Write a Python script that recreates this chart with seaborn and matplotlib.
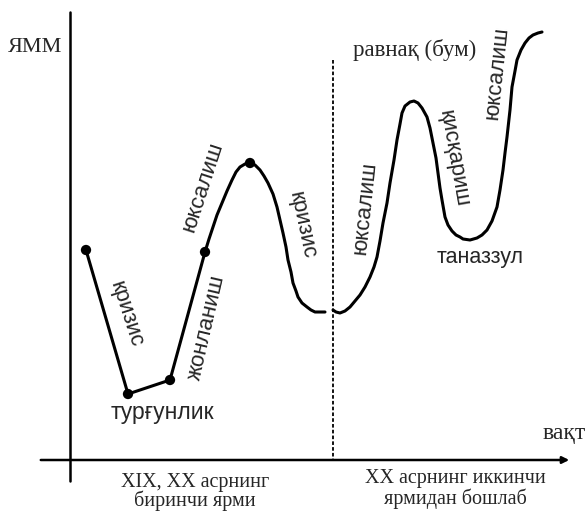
import matplotlib
matplotlib.use('Agg')
import matplotlib.pyplot as plt
import seaborn as sns
import pandas as pd

# curve (pixel-like units, y grows downward)
curve1_x = [86, 128, 170, 205, 209, 213, 217, 222, 227, 232, 236, 240, 245, 250, 255, 260, 264, 268, 273,
            277, 280, 283, 286, 288, 291, 293, 296, 298, 302, 307, 311, 315, 320, 325]
curve1_y = [250, 394, 380, 252, 239, 227, 215, 203, 191, 180, 172, 167, 164, 163, 165, 170, 176, 183, 194,
            207, 220, 233, 247, 260, 272, 283, 291, 297, 303, 307, 310, 312, 312, 312]
curve2_x = [333, 336, 340, 345, 350, 355, 360, 365, 370, 374, 377, 380, 383, 387, 390, 394, 397, 400, 402,
            405, 410, 414, 418, 422, 427, 430, 433, 436, 438, 440, 442, 445, 448, 452, 456, 460,
            463, 470, 477, 482, 487, 492, 497, 500, 503, 505, 507, 510, 512, 515, 517, 521, 525, 529, 533, 538, 542]
curve2_y = [310, 312, 313, 311, 307, 301, 295, 287, 277, 267, 257, 241, 223, 203, 183, 160, 140, 124, 113,
            106, 102, 101, 103, 108, 117, 128, 143, 158, 173, 188, 200, 217, 225, 231, 235, 237,
            239, 240, 238, 235, 230, 221, 207, 190, 170, 153, 137, 110, 87, 71, 60, 50, 43, 38, 35, 33, 32]
dots_x = [86, 128, 170, 205, 250]
dots_y = [250, 394, 380, 252, 163]

# phase labels along the curve: text, x, y, rotation
phase_labels = ['кризис', 'жонланиш', 'юксалиш', 'кризис', 'юксалиш', 'қисқариш', 'юксалиш']
phase_x = [126, 207, 203, 302, 365, 453, 497]
phase_y = [314, 327, 187, 225, 208, 158, 73]
phase_rot = [-72, 77, 72, -78, 84, -80, 84]

c1 = pd.DataFrame({'x': curve1_x, 'y': curve1_y})
c2 = pd.DataFrame({'x': curve2_x, 'y': curve2_y})
dots = pd.DataFrame({'x': dots_x, 'y': dots_y})

sns.set_theme(style='white')
serif = ['Liberation Serif', 'DejaVu Serif']
sans = ['Liberation Sans', 'DejaVu Sans']

fig = plt.figure(figsize=(5.88, 5.11), dpi=100)
ax = fig.add_axes([0, 0, 1, 1])

# axes of the diagram
ax.plot([70, 70], [12, 481], color='black', lw=1.8)
ax.annotate('', xy=(572, 460), xytext=(38, 460),
            arrowprops=dict(arrowstyle='-|>', color='black', lw=1.8, mutation_scale=10))
ax.plot([333, 333], [60, 460], color='black', lw=1.3, ls=(0, (2, 1.2)))

sns.lineplot(data=c1, x='x', y='y', sort=False, estimator=None, color='black', lw=2.2, ax=ax)
sns.lineplot(data=c2, x='x', y='y', sort=False, estimator=None, color='black', lw=2.2, ax=ax)
sns.scatterplot(data=dots, x='x', y='y', color='black', s=55, edgecolor='none', ax=ax, zorder=5)
ax.set_xlim(0, 588)
ax.set_ylim(511, 0)
ax.axis('off')

for t, x, y, r in zip(phase_labels, phase_x, phase_y, phase_rot):
    ax.text(x, y, t, rotation=r, ha='center', va='center', fontsize=16, family=sans,
            rotation_mode='anchor')

ax.text(162, 413, 'турғунлик', ha='center', va='center', fontsize=16.5, family=sans)
ax.text(480, 257, 'таназзул', ha='center', va='center', fontsize=15.5, family=sans)

ax.text(35, 47, 'ЯММ', ha='center', va='center', fontsize=16, family=serif)
ax.text(415, 50, 'равнақ (бум)', ha='center', va='center', fontsize=16.5, family=serif)
ax.text(543, 433, 'вақт', ha='left', va='center', fontsize=17, family=serif)
ax.text(195, 482, 'XIX, XX асрнинг', ha='center', va='center', fontsize=14.5, family=serif)
ax.text(195, 501, 'биринчи ярми', ha='center', va='center', fontsize=14.5, family=serif)
ax.text(455, 479, 'XX асрнинг иккинчи', ha='center', va='center', fontsize=14.5, family=serif)
ax.text(455, 499, 'ярмидан бошлаб', ha='center', va='center', fontsize=14.5, family=serif)

fig.savefig('out.png', dpi=100)
